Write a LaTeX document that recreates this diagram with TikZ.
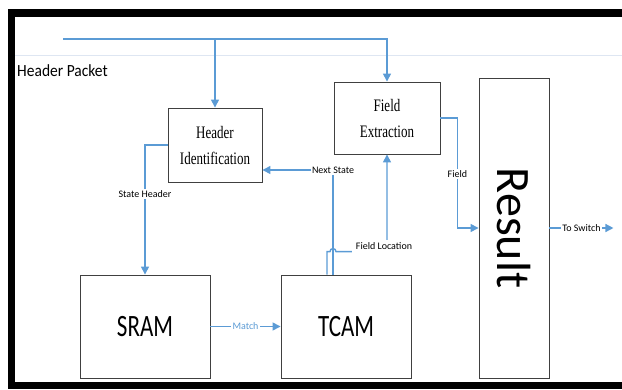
\documentclass[tikz,border=0pt]{standalone}
\usepackage{fontspec}
\setmainfont{Carlito}
\newfontfamily\serifface{Liberation Serif}
\usetikzlibrary{arrows.meta}
\definecolor{linkblue}{RGB}{91,155,213}
\definecolor{boxgrey}{RGB}{64,64,64}
\definecolor{rulegrey}{RGB}{222,230,242}
% vertically stretched text
\newcommand\tallbox[2]{\scalebox{1}[#1]{#2}}

\begin{document}
\begin{tikzpicture}[x=1pt,y=-1pt,
  block/.style={draw=boxgrey, line width=0.9pt, fill=white, inner sep=0pt, align=center},
  serifblock/.style={block, font=\serifface\fontsize{13}{26}\selectfont},
  memblock/.style={block, minimum width=130pt, minimum height=103pt, font=\fontsize{23}{26}\selectfont},
  wire/.style={draw=linkblue, line width=1.4pt},
  conn/.style={wire, -{Triangle[length=8pt,width=8pt]}},
  lab/.style={fill=white, inner sep=1.5pt, font=\fontsize{10}{12}\selectfont},
]
\useasboundingbox (0,0) rectangle (622,389);

% frame
\fill[black] (8,9) rectangle (622,17);
\fill[black] (8,9) rectangle (15,389);
\fill[black] (8,382) rectangle (622,389);
\draw[rulegrey, line width=0.8pt] (15,55) -- (622,55);

\node[anchor=west, inner sep=0pt, font=\fontsize{15.5}{18}\selectfont] (title) at (17,71) {\tallbox{1.1}{Header Packet}};

% blocks
\node[serifblock, minimum width=94pt, minimum height=74pt] (hid) at (215,145)
  {\tallbox{1.35}{Header}\\\tallbox{1.35}{Identification}};
\node[serifblock, minimum width=106pt, minimum height=72pt] (fe) at (387,118)
  {\tallbox{1.35}{Field}\\\tallbox{1.35}{Extraction}};
\node[block, minimum width=70pt, minimum height=300pt] (res) at (514,228)
  {\rotatebox{-90}{\fontsize{48}{48}\selectfont Result}};
\node[memblock] (sram) at (145,326.5) {\tallbox{1.35}{SRAM}};
\node[memblock] (tcam) at (346,326.5) {\tallbox{1.35}{TCAM}};

% incoming header bus
\coordinate (src) at (63,39);
\draw[conn] (src) -| (fe.north);
\draw[conn] (hid.north |- src) -- (hid.north);

% connectors
\draw[conn] (hid.west) -| node[lab, pos=0.69] {State Header} (sram.north);
\draw[conn] ([xshift=-13pt]tcam.north) |- node[lab, pos=0.5] {Next State} ([yshift=-25pt]hid.east);
\draw[conn] ([xshift=-19pt]tcam.north) -- ++(0,-23) coordinate (hopA) -- ++(3,0)
  arc[start angle=180, end angle=360, radius=3]
  -- (hopA -| fe.south) node[lab, inner sep=3.5pt, yshift=5pt, xshift=-3pt] {Field Location} -- (fe.south);
\draw[conn] (fe.east) -- ++(17,0) |- node[lab, pos=0.255] {Field} (res.west);
\draw[conn] (sram.east) -- node[lab, text=linkblue] {Match} (tcam.west);
\coordinate (sw) at ([xshift=64pt]res.east);
\draw[conn] (res.east) -- node[lab] {To Switch} (sw);
\end{tikzpicture}
\end{document}
